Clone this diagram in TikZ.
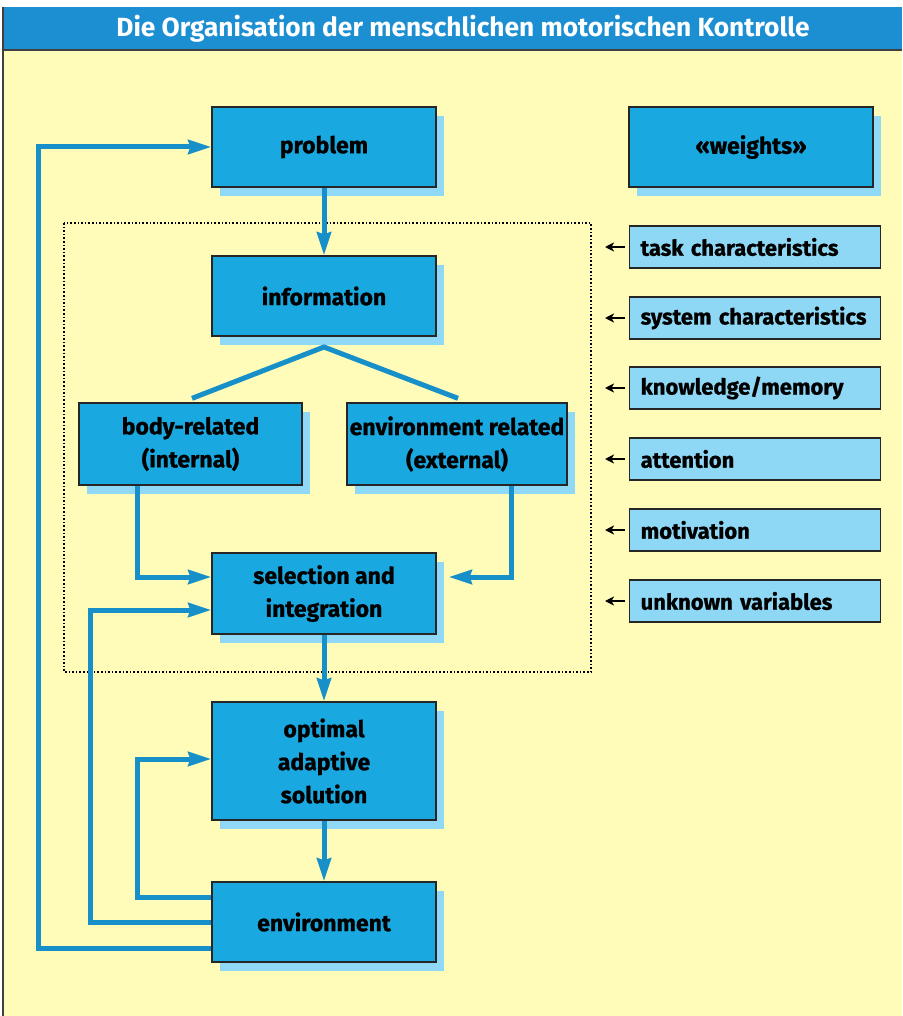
\documentclass[tikz,border=0pt]{standalone}
\usepackage{fontspec}
\setmainfont{Fira Sans}
\newfontfamily\boxfont{Fira Sans}[BoldFeatures={FakeBold=0.8}]
\usetikzlibrary{arrows.meta,calc,shadows}
\definecolor{titleblue}{HTML}{1C8FD2}
\definecolor{bgyellow}{HTML}{FFFBB8}
\definecolor{boxblue}{HTML}{1AA8E0}
\definecolor{shadowblue}{HTML}{8FD8F6}
\definecolor{lightbox}{HTML}{8ED7F5}
\definecolor{lineblue}{HTML}{1790C9}
\tikzset{
  mainbox/.style={draw=black!85, line width=1.3pt, fill=boxblue, inner sep=0pt,
    font=\boxfont\fontsize{23}{33}\selectfont\bfseries, align=center,
    general shadow={fill=shadowblue, shadow xshift=8pt, shadow yshift=-9pt}},
  sidebox/.style={draw=black!85, line width=1.3pt, fill=lightbox, anchor=west,
    minimum width=251pt, minimum height=42pt, inner xsep=11pt, inner ysep=0pt,
    text width=229pt, align=left, font=\boxfont\fontsize{22}{24}\selectfont\bfseries},
  conn/.style={draw=lineblue, line width=5pt, -{Stealth[length=23pt,width=14pt,inset=2pt]}},
  plainline/.style={draw=lineblue, line width=5pt},
  smallarrow/.style={draw=black, line width=2pt, -{Stealth[length=9pt,width=9pt,inset=2.5pt]}}
}
\begin{document}
\begin{tikzpicture}[x=1pt,y=-1pt]
\useasboundingbox (0,0) rectangle (902,1016);
% background
\fill[white] (0,0) rectangle (902,1016);
\fill[bgyellow] (3,50) rectangle (902,1016);
\fill[titleblue] (3,7) rectangle (902,50);
\draw[black!75, line width=1.5pt] (3,7) -- (3,1016);
\draw[black!75, line width=1.5pt] (3,50) -- (902,50);
\node[text=white, font=\fontsize{26.3}{30}\selectfont\bfseries] (title) at (463,29) {Die Organisation der menschlichen motorischen Kontrolle};

% dotted frame
\draw[black, line width=1.6pt, dotted] (64,223) rectangle (591,672);

% main boxes
\node[mainbox, minimum width=224pt, minimum height=80pt] (problem) at (324,147) {problem};
\node[mainbox, minimum width=244pt, minimum height=80pt] (weights) at (751,147) {«weights»};
\node[mainbox, minimum width=224pt, minimum height=80pt] (information) at (324,296) {information};
\node[mainbox, minimum width=223pt, minimum height=82pt] (body) at (190.5,444) {body-related\\(internal)};
\node[mainbox, minimum width=220pt, minimum height=82pt] (envrel) at (457,444) {environment related\\(external)};
\node[mainbox, minimum width=224pt, minimum height=81pt] (selection) at (324,593.5) {selection and\\integration};
\node[mainbox, minimum width=224pt, minimum height=118pt] (optimal) at (324,761) {optimal\\adaptive\\solution};
\node[mainbox, minimum width=224pt, minimum height=80pt] (environment) at (324,922) {environment};

% side boxes
\node[sidebox] (task) at (629,247) {task characteristics};
\node[sidebox] (system) at (629,318) {system characteristics};
\node[sidebox] (knowledge) at (629,388) {knowledge/memory};
\node[sidebox] (attention) at (629,459) {attention};
\node[sidebox] (motivation) at (629,530) {motivation};
\node[sidebox] (unknown) at (629,601) {unknown variables};

\foreach \n in {task,system,knowledge,attention,motivation,unknown}{
  \draw[smallarrow] ($(\n.west)+(-4,0)$) -- ($(\n.west)+(-24,0)$);
}

% connectors
\draw[conn] (problem) -- (information);
\coordinate (apex) at (324,347);
\draw[plainline, line join=miter] ($(body.north)+(1.5,-4)$) -- (apex) -- ($(envrel.north)+(1,-4)$);
\draw[conn] ($(body.south)+(-53,0)$) |- ($(selection.west)+(0,-16.5)$);
\draw[conn] ($(envrel.south)+(54,0)$) |- ($(selection.east)+(12,-16.5)$);
\draw[conn] (selection) -- (optimal);
\draw[conn] (optimal) -- (environment);

\coordinate (l1) at (137,759);
\coordinate (l2) at (90,610);
\coordinate (l3) at (38,147);
\draw[conn] ($(environment.west)+(0,-25)$) -| (l1) -- (optimal.west |- l1);
\draw[conn] (environment.west) -| (l2) -- (selection.west |- l2);
\draw[conn] ($(environment.west)+(0,26)$) -| (l3) -- (problem.west);
\end{tikzpicture}
\end{document}
